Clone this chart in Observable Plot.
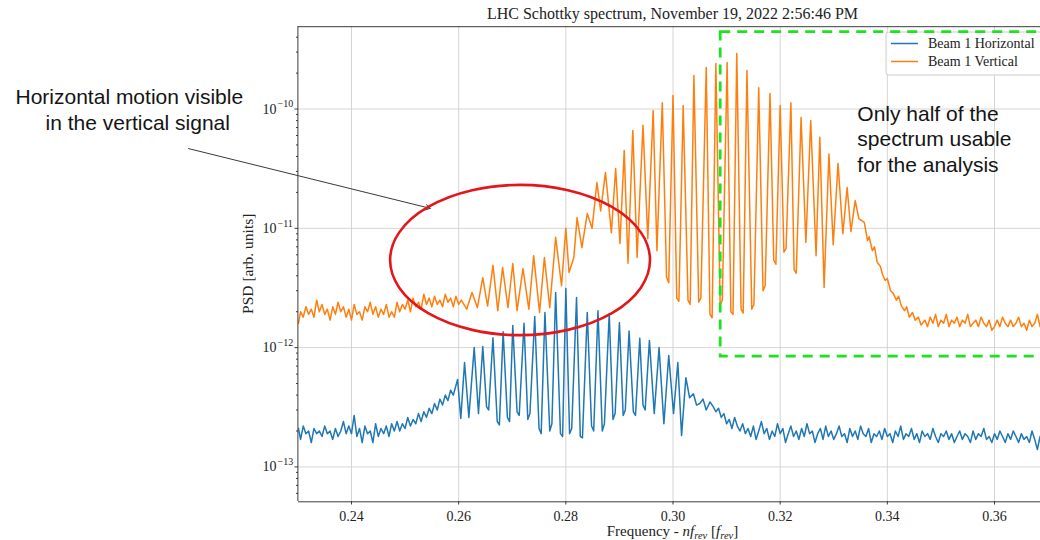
<!DOCTYPE html>
<html><head><meta charset="utf-8">
<script src="https://cdn.jsdelivr.net/npm/d3@7"></script>
<script src="https://cdn.jsdelivr.net/npm/@observablehq/plot@0.6"></script>
<style>
html,body{margin:0;padding:0;background:#fff;overflow:hidden;}
#chart{width:1040px;height:540px;overflow:hidden;position:relative;}
</style></head><body><div id="chart"></div>
<script>
const titleText = "LHC Schottky spectrum, November 19, 2022 2:56:46 PM";
const yLabelText = "PSD [arb. units]";
const seriesNames = ["Beam 1 Horizontal", "Beam 1 Vertical"];
const seriesColors = ["#1f77b4", "#ff7f0e"];
const xDomain = [0.23, 0.37];
const yDomain = [5.1e-14, 4.9e-10];
const xTicks = [0.24, 0.26, 0.28, 0.30, 0.32, 0.34, 0.36];
const yTicks = [1e-13, 1e-12, 1e-11, 1e-10];
const yTickExponents = ["\u221213", "\u221212", "\u221211", "\u221210"];

// Beam 1 Horizontal: [frequency - n f_rev, PSD]
const horizontal = [
[0.2301,2.1e-13],[0.2305,1.7e-13],[0.2310,2.2e-13],[0.2315,1.9e-13],[0.2320,2.0e-13],[0.2325,1.6e-13],[0.2330,2.1e-13],[0.2335,1.9e-13],[0.2340,2.0e-13],[0.2345,1.8e-13],
[0.2350,2.2e-13],[0.2355,1.9e-13],[0.2360,2.0e-13],[0.2365,1.7e-13],[0.2370,2.1e-13],[0.2375,1.8e-13],[0.2380,2.0e-13],[0.2385,2.4e-13],[0.2390,1.9e-13],[0.2395,2.2e-13],
[0.2400,1.9e-13],[0.2405,2.7e-13],[0.2410,1.8e-13],[0.2415,2.1e-13],[0.2420,1.6e-13],[0.2425,2.2e-13],[0.2430,1.9e-13],[0.2435,2.0e-13],[0.2440,1.6e-13],[0.2445,2.3e-13],
[0.2450,1.8e-13],[0.2455,2.1e-13],[0.2460,1.9e-13],[0.2465,2.2e-13],[0.2470,1.8e-13],[0.2475,2.3e-13],[0.2480,2.0e-13],[0.2485,2.4e-13],[0.2490,2.0e-13],[0.2495,2.3e-13],
[0.2500,2.1e-13],[0.2505,2.6e-13],[0.2510,2.2e-13],[0.2515,2.5e-13],[0.2520,2.3e-13],[0.2525,2.8e-13],[0.2530,2.4e-13],[0.2535,2.9e-13],[0.2540,2.6e-13],[0.2545,3.1e-13],
[0.2550,2.8e-13],[0.2555,3.4e-13],[0.2560,3.0e-13],[0.2565,3.7e-13],[0.2570,3.3e-13],[0.2575,4.0e-13],[0.2580,3.6e-13],[0.2585,4.4e-13],[0.2590,4.0e-13],
[0.2598,5.4e-13],[0.2604,2.55e-13],[0.2611,7.5e-13],[0.2619,2.6e-13],[0.2629,1.0e-12],[0.2637,2.8e-13],[0.2645,1.02e-12],[0.2652,3.2e-13],[0.2656,3.0e-13],[0.2664,1.21e-12],
[0.2672,2.4e-13],[0.2676,2.25e-13],[0.2683,1.36e-12],[0.2691,2.6e-13],[0.2695,2.4e-13],[0.2701,1.53e-12],[0.2709,2.9e-13],[0.2713,2.7e-13],[0.2722,1.6e-12],[0.2729,2.5e-13],
[0.2733,2.8e-13],[0.2742,1.82e-12],[0.2750,2.1e-13],[0.2754,1.9e-13],[0.2761,1.97e-12],[0.2770,2.0e-13],[0.2774,2.3e-13],[0.2781,2.9e-12],[0.2790,1.9e-13],[0.2794,1.8e-13],
[0.2800,3.13e-12],[0.2807,1.9e-13],[0.2811,2.1e-13],[0.2820,2.63e-12],[0.2827,1.8e-13],[0.2831,1.75e-13],[0.2840,1.97e-12],[0.2848,2.2e-13],[0.2852,2.0e-13],[0.2860,2.04e-12],
[0.2868,2.0e-13],[0.2872,2.3e-13],[0.2881,1.93e-12],[0.2888,2.5e-13],[0.2892,2.8e-13],[0.2900,1.62e-12],[0.2907,2.7e-13],[0.2911,3.0e-13],[0.2918,1.38e-12],[0.2926,2.9e-13],
[0.2930,2.7e-13],[0.2938,1.2e-12],[0.2944,3.3e-13],[0.2948,3.0e-13],[0.2956,1.15e-12],[0.2965,2.8e-13],[0.2974,1.0e-12],[0.2983,2.3e-13],[0.2992,8.6e-13],[0.3001,2.8e-13],
[0.3009,7.5e-13],[0.3016,1.83e-13],[0.3024,5.6e-13],[0.3031,3.8e-13],[0.3038,4.1e-13],[0.3044,3.3e-13],[0.3050,3.4e-13],[0.3056,3.7e-13],[0.3062,3.0e-13],[0.3069,3.5e-13],
[0.3075,3.2e-13],[0.3080,2.9e-13],[0.3085,3.1e-13],[0.3090,2.6e-13],[0.3095,2.8e-13],[0.3100,2.3e-13],[0.3105,2.5e-13],[0.3110,2.1e-13],[0.3115,2.6e-13],[0.3120,2.2e-13],
[0.3125,2.0e-13],[0.3130,2.3e-13],[0.3135,1.9e-13],[0.3140,2.1e-13],[0.3145,1.8e-13],[0.3150,2.2e-13],[0.3155,1.7e-13],[0.3160,2.0e-13],[0.3165,2.4e-13],[0.3170,1.9e-13],
[0.3175,2.1e-13],[0.3180,1.7e-13],[0.3185,2.0e-13],[0.3190,1.8e-13],[0.3195,2.3e-13],[0.3200,1.9e-13],[0.3205,2.1e-13],[0.3210,1.6e-13],[0.3215,1.9e-13],[0.3220,2.2e-13],
[0.3225,1.8e-13],[0.3230,2.0e-13],[0.3235,1.7e-13],[0.3240,2.1e-13],[0.3245,1.8e-13],[0.3250,2.3e-13],[0.3255,1.9e-13],[0.3260,2.0e-13],[0.3265,1.6e-13],[0.3270,1.9e-13],
[0.3275,2.1e-13],[0.3280,1.7e-13],[0.3285,2.2e-13],[0.3290,1.8e-13],[0.3295,2.0e-13],[0.3300,1.7e-13],[0.3305,1.9e-13],[0.3310,2.2e-13],[0.3315,1.8e-13],[0.3320,1.9e-13],
[0.3325,1.6e-13],[0.3330,2.1e-13],[0.3335,1.8e-13],[0.3340,2.0e-13],[0.3345,1.7e-13],[0.3350,2.2e-13],[0.3355,1.9e-13],[0.3360,1.8e-13],[0.3365,2.1e-13],[0.3370,1.6e-13],
[0.3375,1.9e-13],[0.3380,1.8e-13],[0.3385,2.0e-13],[0.3390,1.7e-13],[0.3395,2.1e-13],[0.3400,1.8e-13],[0.3405,1.9e-13],[0.3410,1.6e-13],[0.3415,2.0e-13],[0.3420,1.8e-13],
[0.3425,2.2e-13],[0.3430,1.7e-13],[0.3435,1.9e-13],[0.3440,1.8e-13],[0.3445,2.1e-13],[0.3450,1.7e-13],[0.3455,1.9e-13],[0.3460,1.6e-13],[0.3465,2.0e-13],[0.3470,1.8e-13],
[0.3475,1.9e-13],[0.3480,1.7e-13],[0.3485,2.1e-13],[0.3490,1.8e-13],[0.3495,1.6e-13],[0.3500,1.9e-13],[0.3505,1.8e-13],[0.3510,2.0e-13],[0.3515,1.7e-13],[0.3520,1.9e-13],
[0.3525,1.6e-13],[0.3530,1.8e-13],[0.3535,2.0e-13],[0.3540,1.7e-13],[0.3545,1.9e-13],[0.3550,1.8e-13],[0.3555,1.6e-13],[0.3560,2.0e-13],[0.3565,1.7e-13],[0.3570,1.9e-13],
[0.3575,1.8e-13],[0.3580,2.1e-13],[0.3585,1.7e-13],[0.3590,1.8e-13],[0.3595,1.6e-13],[0.3600,1.9e-13],[0.3605,1.7e-13],[0.3610,2.0e-13],[0.3615,1.8e-13],[0.3620,1.6e-13],
[0.3625,1.9e-13],[0.3630,1.7e-13],[0.3635,2.0e-13],[0.3640,1.8e-13],[0.3645,1.6e-13],[0.3650,1.9e-13],[0.3655,1.7e-13],[0.3660,1.8e-13],[0.3665,1.6e-13],[0.3670,2.0e-13],
[0.3675,1.7e-13],[0.3680,1.4e-13],[0.3685,1.8e-13]
];

// Beam 1 Vertical: [frequency - n f_rev, PSD]
const vertical = [
[0.2301,1.6e-12],[0.2305,2.0e-12],[0.2310,1.8e-12],[0.2315,2.2e-12],[0.2320,1.9e-12],[0.2325,2.1e-12],[0.2330,1.8e-12],[0.2335,2.5e-12],[0.2340,2.0e-12],[0.2345,2.3e-12],
[0.2350,1.9e-12],[0.2355,2.1e-12],[0.2360,1.7e-12],[0.2365,2.2e-12],[0.2370,1.9e-12],[0.2375,2.4e-12],[0.2380,2.0e-12],[0.2385,2.2e-12],[0.2390,1.8e-12],[0.2395,2.1e-12],
[0.2400,1.7e-12],[0.2405,2.3e-12],[0.2410,1.9e-12],[0.2415,2.0e-12],[0.2420,1.7e-12],[0.2425,2.2e-12],[0.2430,2.0e-12],[0.2435,2.4e-12],[0.2440,1.9e-12],[0.2445,2.2e-12],
[0.2450,1.8e-12],[0.2455,2.1e-12],[0.2460,1.9e-12],[0.2465,2.3e-12],[0.2470,1.8e-12],[0.2475,2.0e-12],[0.2480,1.8e-12],[0.2485,2.4e-12],[0.2490,2.0e-12],[0.2495,2.3e-12],
[0.2500,2.1e-12],[0.2505,2.5e-12],[0.2510,2.0e-12],[0.2515,2.6e-12],[0.2520,2.2e-12],[0.2525,2.4e-12],[0.2530,2.1e-12],[0.2535,2.8e-12],[0.2540,2.3e-12],[0.2545,2.6e-12],
[0.2550,2.2e-12],[0.2555,2.7e-12],[0.2560,2.3e-12],[0.2565,2.5e-12],[0.2570,2.2e-12],[0.2575,2.8e-12],[0.2580,2.4e-12],[0.2585,2.6e-12],[0.2590,2.2e-12],[0.2595,2.7e-12],
[0.2600,2.3e-12],[0.2605,2.5e-12],[0.2615,2.1e-12],
[0.2625,2.9e-12],[0.2635,2.16e-12],[0.2645,3.86e-12],[0.2654,2.23e-12],[0.2664,4.9e-12],[0.2673,2.04e-12],[0.2682,4.7e-12],[0.2692,2.16e-12],[0.2701,5.07e-12],[0.2709,2.04e-12],
[0.2720,4.6e-12],[0.2731,2.1e-12],[0.2740,5.9e-12],[0.2751,1.97e-12],[0.2760,5.7e-12],[0.2770,2.16e-12],[0.2781,8.4e-12],[0.2792,3.3e-12],[0.2800,1.0e-11],[0.2806,4.27e-12],
[0.2815,5.7e-12],[0.2821,1.23e-11],[0.2830,6.9e-12],[0.2840,1.33e-11],[0.2849,1.0e-11],[0.2858,2.42e-11],[0.2865,1.4e-11],[0.2874,2.94e-11],[0.2885,9.2e-12],[0.2893,3.17e-11],
[0.2901,7.45e-12],[0.2909,4.5e-11],[0.2916,5.1e-12],[0.2925,6.6e-11],[0.2933,5.7e-12],[0.2944,7.3e-11],[0.2953,8.2e-12],[0.2963,9.7e-11],[0.2970,6.5e-12],[0.2980,1.13e-10],
[0.2988,3.9e-12],[0.2992,3.5e-12],[0.3000,1.30e-10],[0.3007,2.6e-12],[0.3011,2.45e-12],[0.3019,1.07e-10],[0.3028,2.5e-12],[0.3032,2.3e-12],[0.3039,1.91e-10],[0.3048,2.4e-12],
[0.3052,2.6e-12],[0.3062,2.23e-10],[0.3069,1.9e-12],[0.3073,1.78e-12],[0.3080,2.41e-10],[0.3088,2.3e-12],[0.3092,2.5e-12],[0.3101,2.45e-10],[0.3108,2.0e-12],[0.3112,1.9e-12],
[0.3119,2.92e-10],[0.3127,2.1e-12],[0.3131,1.95e-12],[0.3138,2.1e-10],[0.3147,2.1e-12],[0.3151,2.3e-12],[0.3160,1.51e-10],[0.3168,3.0e-12],[0.3172,3.3e-12],[0.3181,1.35e-10],
[0.3188,5.4e-12],[0.3192,5.0e-12],[0.3200,1.07e-10],[0.3207,6.3e-12],[0.3211,6.8e-12],[0.3220,1.13e-10],[0.3226,4.5e-12],[0.3230,4.2e-12],[0.3239,8.5e-11],[0.3248,7.6e-12],
[0.3257,8.0e-11],[0.3267,5.9e-12],[0.3274,5.8e-11],[0.3282,3.2e-12],[0.3291,4.2e-11],[0.3299,7.3e-12],[0.3308,3.5e-11],[0.3317,9.0e-12],[0.3325,2.2e-11],[0.3332,9.4e-12],
[0.3340,1.71e-11],[0.3347,1.2e-11],[0.3357,1.12e-11],
[0.3363,7.9e-12],[0.3366,8.5e-12],[0.3372,6.5e-12],[0.3376,7.0e-12],[0.3381,5.2e-12],[0.3387,4.8e-12],[0.3391,4.1e-12],[0.3396,3.65e-12],[0.3400,3.8e-12],[0.3406,3.0e-12],
[0.3411,2.85e-12],[0.3417,2.5e-12],[0.3421,2.7e-12],[0.3426,2.25e-12],[0.3432,2.04e-12],[0.3436,2.2e-12],[0.3441,1.8e-12],[0.3447,1.97e-12],[0.3452,1.7e-12],[0.3458,1.8e-12],
[0.3463,1.55e-12],
[0.3470,1.7e-12],[0.3475,1.5e-12],[0.3480,1.8e-12],[0.3485,1.6e-12],[0.3490,1.9e-12],[0.3495,1.5e-12],[0.3500,1.7e-12],[0.3505,1.6e-12],[0.3510,1.9e-12],[0.3515,1.5e-12],
[0.3520,1.7e-12],[0.3525,1.6e-12],[0.3530,1.8e-12],[0.3535,1.5e-12],[0.3540,1.7e-12],[0.3545,1.6e-12],[0.3550,1.9e-12],[0.3555,1.5e-12],[0.3560,1.6e-12],[0.3565,1.7e-12],
[0.3570,1.5e-12],[0.3575,1.8e-12],[0.3580,1.6e-12],[0.3585,1.5e-12],[0.3590,1.7e-12],[0.3595,1.4e-12],[0.3600,1.5e-12],[0.3605,1.7e-12],[0.3610,1.5e-12],[0.3615,1.8e-12],
[0.3620,1.6e-12],[0.3625,1.5e-12],[0.3630,1.7e-12],[0.3635,1.5e-12],[0.3640,1.6e-12],[0.3645,1.8e-12],[0.3650,1.5e-12],[0.3655,1.6e-12],[0.3660,1.4e-12],[0.3665,1.7e-12],
[0.3670,1.5e-12],[0.3675,1.6e-12],[0.3680,1.9e-12],[0.3685,1.5e-12]
];

// annotations (data coordinates)
const noteLines = [
  {t: "Horizontal motion visible", f: 0.1773, p: 1.25e-10},
  {t: "in the vertical signal", f: 0.1829, p: 7.63e-11},
  {t: "Only half of the", f: 0.3344, p: 9.12e-11},
  {t: "spectrum usable", f: 0.3344, p: 5.55e-11},
  {t: "for the analysis", f: 0.3344, p: 3.41e-11}
];
const arrowSpec = [{f1: 0.2096, p1: 4.66e-11, f2: 0.2547, p2: 1.47e-11}];
const usableBox = [{f1: 0.3089, f2: 0.3745, p1: 4.42e-10, p2: 8.42e-13}];
const ellipseSpec = {f1: 0.2473, f2: 0.2958, pTop: 2.29e-11, pBottom: 1.26e-12};

const SERIF = "'Liberation Serif','Times New Roman',serif";
const SANS = "'Liberation Sans',Arial,sans-serif";

const rows = [
  ...horizontal.map(([f, p]) => ({f, p, s: seriesNames[0]})),
  ...vertical.map(([f, p]) => ({f, p, s: seriesNames[1]}))
];
const minorY = [];
for (const e of [-14, -13, -12, -11, -10]) {
  for (let m = 2; m <= 9; m++) {
    const v = m * Math.pow(10, e);
    if (v > yDomain[0] && v < yDomain[1]) minorY.push(v);
  }
}

const plot = Plot.plot({
  width: 1040, height: 540,
  marginLeft: 298, marginRight: 0, marginTop: 26, marginBottom: 39,
  style: {background: "white", fontFamily: SERIF, color: "#222"},
  x: {domain: xDomain, range: [297.4, 1047.6]},
  y: {type: "log", domain: yDomain, range: [501.3, 26.2]},
  color: {domain: seriesNames, range: seriesColors},
  marks: [
    Plot.gridX(xTicks, {stroke: "#d0d0d0", strokeOpacity: 1, strokeWidth: 0.9}),
    Plot.gridY(yTicks, {stroke: "#d0d0d0", strokeOpacity: 1, strokeWidth: 0.9}),
    Plot.line(rows, {x: "f", y: "p", z: "s", stroke: "s", strokeWidth: 1.5, clip: true}),
    Plot.ruleX([xDomain[0]], {stroke: "#3c3c3c", strokeWidth: 1}),
    Plot.ruleY([yDomain[0], yDomain[1]], {stroke: "#3c3c3c", strokeWidth: 1}),
    Plot.axisX(xTicks, {tickSize: 3.5, tickPadding: 6, tickFormat: d => d.toFixed(2), fontSize: 14, label: null, stroke: "#3c3c3c"}),
    Plot.axisY(yTicks, {tickSize: 3.5, tickFormat: () => "", label: null, stroke: "#3c3c3c"}),
    Plot.axisY(minorY, {tickSize: 2, tickFormat: () => "", label: null, stroke: "#3c3c3c"}),
    Plot.text(yTicks, {y: d => d, frameAnchor: "left", text: () => "10", dx: -22, textAnchor: "end", fontSize: 14, fill: "#222"}),
    Plot.text(yTicks, {y: d => d, frameAnchor: "left", text: (d, i) => yTickExponents[i], dx: -21, dy: -5, textAnchor: "start", fontSize: 10, fill: "#222"})
  ]
});

const sx = plot.scale("x"), sy = plot.scale("y");
const svg = d3.select(plot);
const cx = (xDomain[0] + xDomain[1]) / 2;

// title
svg.append("text").attr("x", sx.apply(cx)).attr("y", 19).attr("text-anchor", "middle")
  .attr("font-family", SERIF).attr("font-size", 16).attr("fill", "#222").text(titleText);
// y label
svg.append("text").attr("transform", `translate(253,${(sy.apply(yDomain[0]) + sy.apply(yDomain[1])) / 2}) rotate(-90)`)
  .attr("text-anchor", "middle").attr("font-family", SERIF).attr("font-size", 15.5).attr("fill", "#222").text(yLabelText);
// x label
const xl = svg.append("text").attr("x", sx.apply(cx)).attr("y", 536).attr("text-anchor", "middle")
  .attr("font-family", SERIF).attr("font-size", 15).attr("fill", "#222");
xl.append("tspan").text("Frequency - ");
xl.append("tspan").attr("font-style", "italic").text("nf");
xl.append("tspan").attr("font-size", 10.5).attr("font-style", "italic").attr("dy", 3).text("rev");
xl.append("tspan").attr("dy", -3).text(" [");
xl.append("tspan").attr("font-style", "italic").text("f");
xl.append("tspan").attr("font-size", 10.5).attr("font-style", "italic").attr("dy", 3).text("rev");
xl.append("tspan").attr("dy", -3).text("]");

// legend
const lg = svg.append("g").attr("transform", "translate(886,32)");
lg.append("rect").attr("x", 0).attr("y", 0).attr("width", 175).attr("height", 43).attr("rx", 3)
  .attr("fill", "white").attr("fill-opacity", 0.9).attr("stroke", "#cccccc").attr("stroke-width", 1);
seriesNames.forEach((n, i) => {
  const yy = 11.5 + i * 18;
  lg.append("line").attr("x1", 5).attr("x2", 32).attr("y1", yy).attr("y2", yy)
    .attr("stroke", seriesColors[i]).attr("stroke-width", 1.5);
  lg.append("text").attr("x", 42).attr("y", yy).attr("dy", "0.35em").attr("text-anchor", "start")
    .attr("font-family", SERIF).attr("font-size", 14).attr("fill", "#222").text(n);
});

// annotation layer drawn with Plot marks on the same scales
const overlay = Plot.plot({
  width: 1040, height: 540,
  marginLeft: 298, marginRight: 0, marginTop: 26, marginBottom: 39,
  style: {background: "transparent"},
  x: {domain: xDomain, range: [297.4, 1047.6], axis: null},
  y: {type: "log", domain: yDomain, range: [501.3, 26.2], axis: null},
  marks: [
    Plot.arrow(arrowSpec, {x1: "f1", y1: "p1", x2: "f2", y2: "p2", stroke: "#3a3a3a", strokeWidth: 1, headLength: 8, bend: 0}),
    Plot.rect(usableBox, {x1: "f1", x2: "f2", y1: "p1", y2: "p2", fill: "none", stroke: "#1fe21f", strokeWidth: 2.8, strokeDasharray: "10,7"}),
    Plot.text(noteLines, {x: "f", y: "p", text: "t", textAnchor: "start", fontFamily: SANS, fontSize: 21, fill: "#141414"})
  ]
});
d3.select(overlay).style("position", "absolute").style("left", "0px").style("top", "0px");

// red ellipse
const ex1 = sx.apply(ellipseSpec.f1), ex2 = sx.apply(ellipseSpec.f2);
const ey1 = sy.apply(ellipseSpec.pTop), ey2 = sy.apply(ellipseSpec.pBottom);
d3.select(overlay).append("ellipse").attr("cx", (ex1 + ex2) / 2).attr("cy", (ey1 + ey2) / 2)
  .attr("rx", (ex2 - ex1) / 2).attr("ry", (ey2 - ey1) / 2)
  .attr("fill", "none").attr("stroke", "#e3161c").attr("stroke-width", 2.6);

const chart = document.getElementById("chart");
chart.appendChild(plot);
chart.appendChild(overlay);
</script></body></html>
